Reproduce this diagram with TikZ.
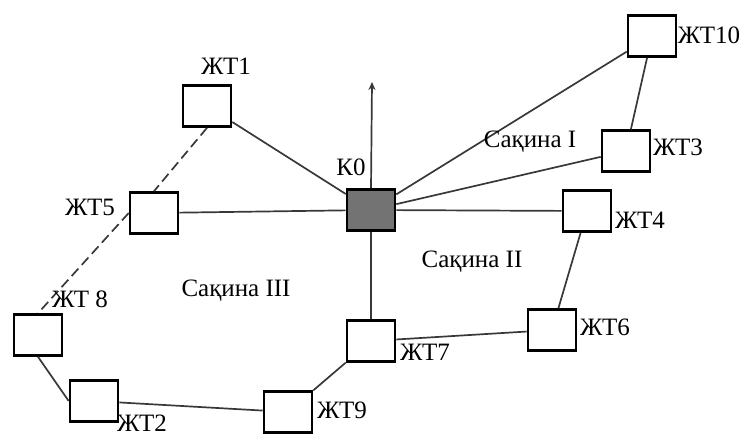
\documentclass[tikz,border=0pt]{standalone}
\usepackage{fontspec}
\setmainfont{Liberation Serif}
\newfontfamily\diagfont{Liberation Serif}
\usetikzlibrary{arrows.meta}
\tikzset{
  box/.style={draw=black, line width=2.6pt, fill=white, minimum width=48pt, minimum height=41pt, inner sep=0pt},
  hub/.style={box, fill=black!55},
  lbl/.style={inner sep=0pt, font=\diagfont\fontsize{25}{28}\selectfont},
  link/.style={draw=black!78, line width=1.7pt},
  dlink/.style={link, dash pattern=on 10pt off 5pt}
}
\begin{document}
\begin{tikzpicture}[x=1pt,y=-1pt]
\useasboundingbox (0,0) rectangle (743,439);
% nodes
\node[hub] (k0) at (371,210) {};
\node[box] (t1) at (207,106) {};
\node[box] (t5) at (154,213) {};
\node[box] (t10) at (652,36) {};
\node[box] (t3) at (626,151) {};
\node[box] (t4) at (587,211) {};
\node[box] (t6) at (552,330) {};
\node[box] (t7) at (371,341) {};
\node[box] (t9) at (288,412) {};
\node[box] (t2) at (94,401) {};
\node[box] (t8) at (38,335) {};
\coordinate (top) at (372,82);
% links
\draw[link] (k0) -- (t1);
\draw[dlink] (t1.south) -- (t5.north);
\draw[link] (t5) -- (k0);
\draw[dlink] (t5.west) -- (t8.north);
\draw[link] (t8.south) -- (t2.west);
\draw[link] (t2) -- (t9);
\draw[link] (t9) -- (t7);
\draw[link] (t7) -- (k0);
\draw[link] (t7) -- (t6);
\draw[link] (t6) -- (t4);
\draw[link] (t4) -- (k0);
\draw[link] (k0) -- (t10);
\draw[link] (t10) -- (t3);
\draw[link] (t3) -- (k0);
\draw[link, -{Stealth[length=8pt,width=7pt]}] (k0.north) -- (top);
% labels
\node[lbl] (l1) at (226,66) {ЖТ1};
\node[lbl] (l5) at (90,207) {ЖТ5};
\node[lbl] (lk) at (351,167) {К0};
\node[lbl] (l10) at (709,35) {ЖТ10};
\node[lbl] (l3) at (678,147) {ЖТ3};
\node[lbl] (l4) at (640,220) {ЖТ4};
\node[lbl] (l6) at (605,327) {ЖТ6};
\node[lbl] (l7) at (425,352) {ЖТ7};
\node[lbl] (l9) at (342,410) {ЖТ9};
\node[lbl] (l2) at (142,423) {ЖТ2};
\node[lbl] (l8) at (80,299) {ЖТ 8};
\node[lbl] (r1) at (530,142) {Сақина I};
\node[lbl] (r2) at (472,262) {Сақина II};
\node[lbl] (r3) at (236,291) {Сақина III};
\end{tikzpicture}
\end{document}
